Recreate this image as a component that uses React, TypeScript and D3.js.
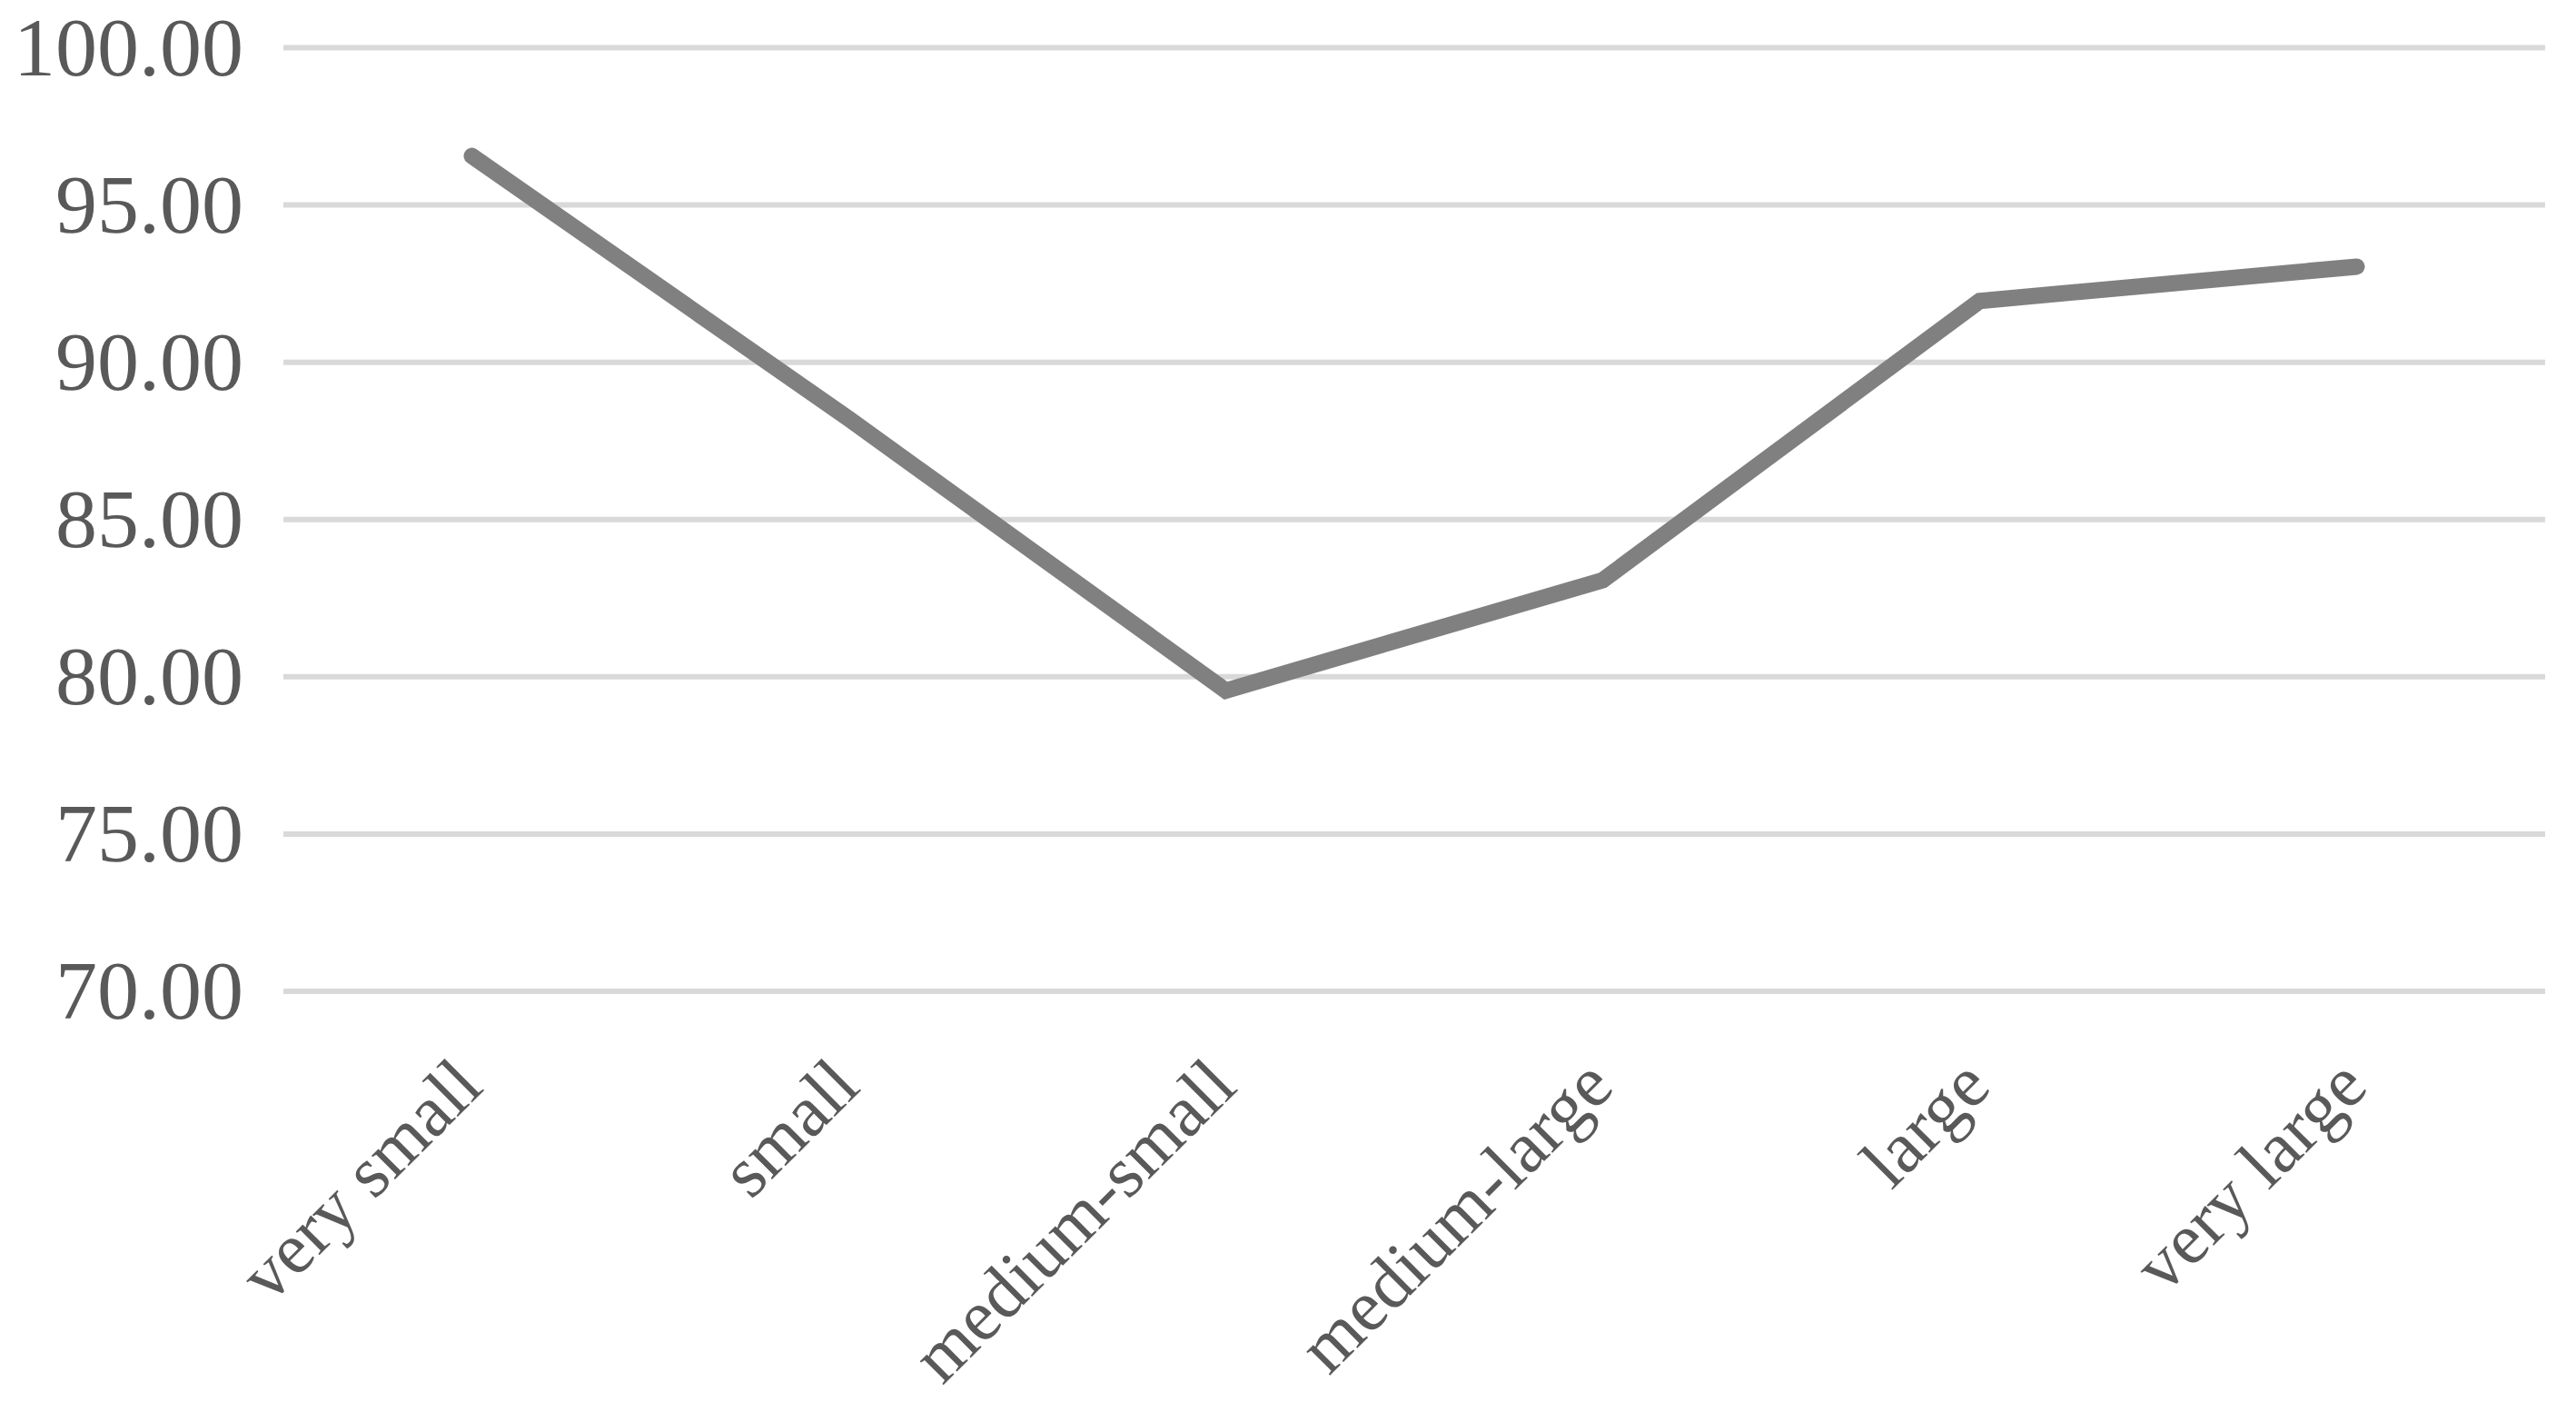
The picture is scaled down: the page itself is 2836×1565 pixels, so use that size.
import React, { useEffect, useRef } from "react";
import * as d3 from "d3";

// chart data
const categories = ["very small", "small", "medium-small", "medium-large", "large", "very large"];
const values = [96.56, 88.2, 79.56, 83.07, 91.95, 93.04];
const yTicks = [70, 75, 80, 85, 90, 95, 100];

const W = 2836;
const H = 1565;

const App = () => {
    const svgRef = useRef<SVGSVGElement>(null);

    useEffect(() => {
        document.body.style.margin = "0";
        const svg = d3.select(svgRef.current);
        svg.selectAll("*").remove();

        const x = d3.scaleBand<string>().domain(categories).range([312, 2802]).padding(0);
        const y = d3.scaleLinear().domain([70, 100]).range([1091, 52.5]);
        const cx = (c: string) => (x(c) as number) + x.bandwidth() / 2;

        // gridlines
        svg.append("g")
            .selectAll("line")
            .data(yTicks)
            .enter()
            .append("line")
            .attr("x1", x.range()[0])
            .attr("x2", x.range()[1])
            .attr("y1", d => y(d))
            .attr("y2", d => y(d))
            .attr("stroke", "#d9d9d9")
            .attr("stroke-width", 6);

        // y tick labels
        svg.append("g")
            .selectAll("text")
            .data(yTicks)
            .enter()
            .append("text")
            .attr("x", 268)
            .attr("y", d => y(d) + 30)
            .attr("text-anchor", "end")
            .style("font-family", "'Liberation Serif', serif")
            .style("font-size", "92px")
            .style("fill", "#595959")
            .text(d => d3.format(".2f")(d));

        // x labels, rotated
        svg.append("g")
            .selectAll("text")
            .data(categories)
            .enter()
            .append("text")
            .attr("transform", d => `translate(${cx(d) - 5},1179) rotate(-45)`)
            .attr("text-anchor", "end")
            .attr("dy", "0.35em")
            .style("font-family", "'Liberation Serif', serif")
            .style("font-size", "80px")
            .style("fill", "#595959")
            .text(d => d);

        // the line
        const line = d3.line<number>()
            .x((_, i) => cx(categories[i]))
            .y(d => y(d));

        svg.append("path")
            .datum(values)
            .attr("d", line)
            .attr("fill", "none")
            .attr("stroke", "#808080")
            .attr("stroke-width", 18)
            .attr("stroke-linecap", "round")
            .attr("stroke-linejoin", "miter");
    }, []);

    return <svg ref={svgRef} width={W} height={H} style={{ display: "block", background: "white" }} />;
};

export default App;
